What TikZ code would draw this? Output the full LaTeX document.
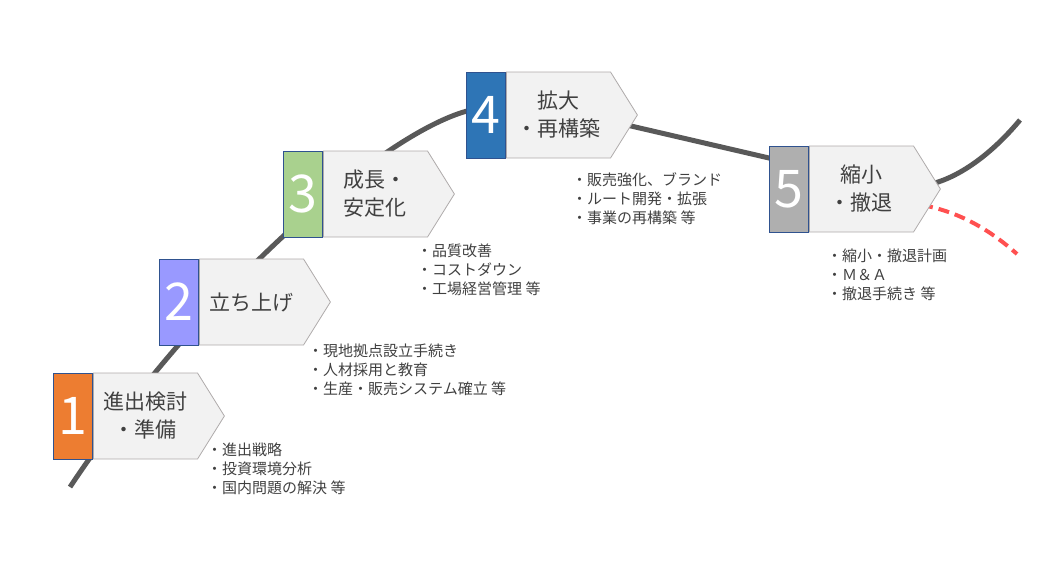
\documentclass[tikz,border=0pt]{standalone}
\usepackage{fontspec}
\setmainfont{Noto Sans CJK JP}
\usetikzlibrary{shapes.symbols, positioning}
\definecolor{stepA}{HTML}{ED7D31}
\definecolor{stepB}{HTML}{9999FF}
\definecolor{stepC}{HTML}{A9D18E}
\definecolor{stepD}{HTML}{2E75B6}
\definecolor{stepE}{HTML}{AFAFAF}
\definecolor{numborder}{HTML}{2F528F}
\definecolor{boxline}{HTML}{AFABAB}
\definecolor{boxfill}{HTML}{F2F2F2}
\definecolor{textgray}{HTML}{404040}
\definecolor{curvegray}{HTML}{595959}
\definecolor{exitred}{HTML}{FF5050}

\begin{document}
\begin{tikzpicture}[
    x=1pt, y=-1pt,
    stepbox/.style = {signal, signal to=east, signal pointer angle=116, draw=boxline, fill=boxfill, line width=0.8pt, minimum width=131pt, minimum height=86pt, inner sep=0pt, align=center, anchor=west, text=textgray, font=\fontsize{21}{28}\selectfont},
    numbox/.style = {rectangle, draw=numborder, line width=0.8pt, minimum width=39pt, minimum height=86pt, inner sep=0pt, text=white, font=\fontsize{52}{52}\selectfont},
    note/.style = {anchor=base west, align=left, inner sep=0pt, text=textgray, font=\fontsize{15}{19}\selectfont},
    curve/.style = {line width=5pt, draw=curvegray},
    exit/.style = {line width=4pt, draw=exitred, dash pattern=on 11pt off 6pt}]

    \useasboundingbox (0,0) rectangle (1053,571);

    \coordinate (c0) at (70,487);
    \coordinate (c1) at (467,111);
    \coordinate (c2) at (631,126);
    \coordinate (c3) at (769,158);
    \coordinate (c4) at (935,183);
    \coordinate (c5) at (1020,120);
    \coordinate (d0) at (922,205);
    \coordinate (d1) at (1017,254);

    \draw[curve] (c0) .. controls (200,292) and (380,135) .. (c1)
        .. controls (522,96) and (576,113) .. (c2) -- (c3)
        .. controls (840,174) and (890,196) .. (c4)
        .. controls (965,174) and (995,150) .. (c5);
    \draw[exit] (d0) .. controls (960,212) and (990,230) .. (d1);

    \node[stepbox] (s1) at (93,416) {進出検討\\・準備};
    \node[numbox, fill=stepA, left=0pt of s1] (n1) {1};
    \node[stepbox] (s2) at (199,302) {立ち上げ};
    \node[numbox, fill=stepB, left=0pt of s2] (n2) {2};
    \node[stepbox] (s3) at (323,194) {成長・\\安定化};
    \node[numbox, fill=stepC, left=0pt of s3] (n3) {3};
    \node[stepbox] (s4) at (506,115) {拡大\\・再構築};
    \node[numbox, fill=stepD, left=0pt of s4] (n4) {4};
    \node[stepbox] (s5) at (809,189) {縮小\\・撤退};
    \node[numbox, fill=stepE, left=0pt of s5] (n5) {5};

    \node[note] (l1) at (207,493) {・進出戦略\\・投資環境分析\\・国内問題の解決 等};
    \node[note] (l2) at (308,394) {・現地拠点設立手続き\\・人材採用と教育\\・生産・販売システム確立 等};
    \node[note] (l3) at (417,294) {・品質改善\\・コストダウン\\・工場経営管理 等};
    \node[note] (l4) at (572,223) {・販売強化、ブランド\\・ルート開発・拡張\\・事業の再構築 等};
    \node[note] (l5) at (827,299) {・縮小・撤退計画\\・Ｍ＆Ａ\\・撤退手続き 等};
\end{tikzpicture}
\end{document}
